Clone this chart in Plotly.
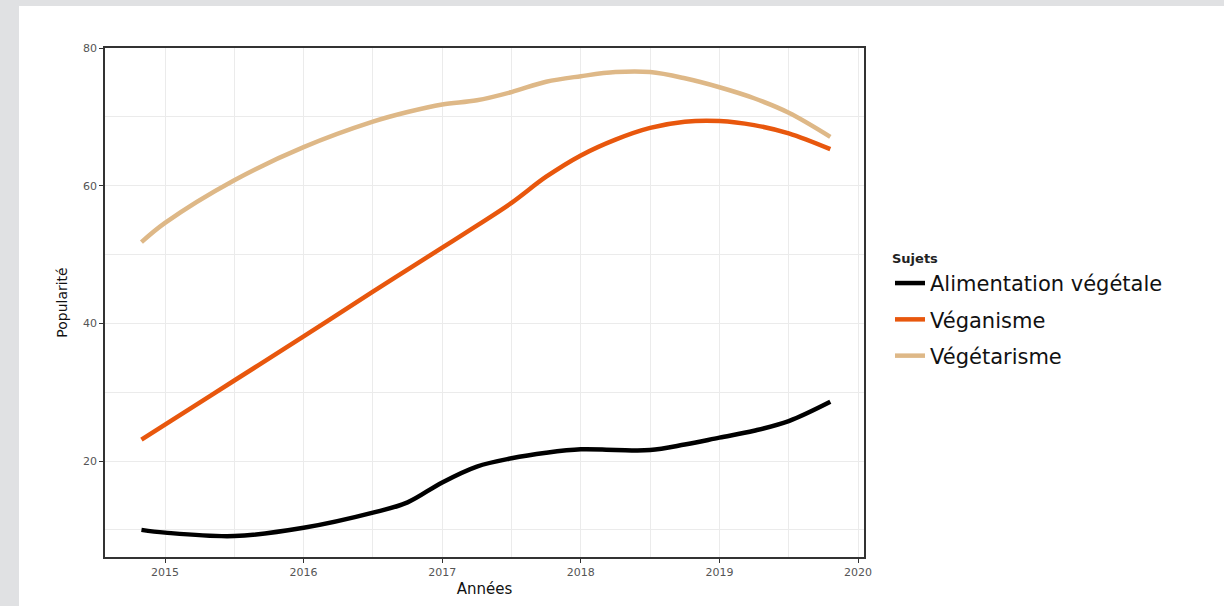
import plotly.graph_objects as go

# Data
annees = [2014.83, 2015.0, 2015.5, 2016.0, 2016.5, 2016.75, 2017.0, 2017.25, 2017.5, 2017.75,
          2018.0, 2018.25, 2018.5, 2018.75, 2019.0, 2019.25, 2019.5, 2019.8]
alimentation = [10.0, 9.6, 9.1, 10.3, 12.5, 14.0, 16.9, 19.2, 20.4, 21.2,
                21.7, 21.6, 21.6, 22.4, 23.4, 24.4, 25.8, 28.6]
veganisme = [23.1, 25.3, 31.7, 38.1, 44.6, 47.8, 51.0, 54.2, 57.5, 61.3,
             64.4, 66.7, 68.4, 69.3, 69.4, 68.8, 67.6, 65.3]
vegetarisme = [51.8, 54.6, 60.8, 65.6, 69.3, 70.7, 71.8, 72.4, 73.6, 75.1,
               75.9, 76.5, 76.5, 75.6, 74.3, 72.7, 70.6, 67.1]

series = [
    ("Alimentation végétale", alimentation, "#000000"),
    ("Véganisme", veganisme, "#E8570D"),
    ("Végétarisme", vegetarisme, "#DEB887"),
]

x_ticks = [2015, 2016, 2017, 2018, 2019, 2020]
y_ticks = [20, 40, 60, 80]

FONT = "DejaVu Sans, sans-serif"

fig = go.Figure()
for i, (name, vals, col) in enumerate(series):
    fig.add_trace(go.Scatter(
        x=annees, y=vals, name=name, mode="lines",
        line=dict(color=col, width=4.5, shape="spline", smoothing=1.0),
        legendgroup=str(i),
    ))

L, R, T, B = 105, 360, 48, 49
W, H = 1224, 606
pw, ph = W - L - R, H - T - B

fig.add_shape(type="rect", xref="paper", yref="paper",
              x0=(19 - L) / pw, x1=(W + 5 - L) / pw,
              y0=(H - B - H - 5) / ph, y1=(H - B - 6) / ph,
              fillcolor="white", line=dict(width=0), layer="below")

axis_common = dict(
    showline=True, linecolor="#333333", linewidth=1.5, mirror=True,
    ticks="outside", ticklen=4, tickcolor="#333333", tickwidth=1,
    showgrid=True, gridcolor="#ebebeb", gridwidth=1.2,
    zeroline=False,
    tickfont=dict(family=FONT, size=11, color="#555555"),
)

fig.update_xaxes(
    range=[2014.567, 2020.043], tickvals=x_ticks, ticktext=[str(v) for v in x_ticks],
    minor=dict(dtick=0.5, tick0=2014.5, showgrid=True, gridcolor="#ebebeb", gridwidth=1.2, ticks=""),
    title=dict(text="Années", font=dict(family=FONT, size=15, color="#111111"), standoff=6),
    **axis_common,
)
fig.update_yaxes(
    range=[6.06, 80], tickvals=y_ticks, ticktext=[str(v) for v in y_ticks],
    minor=dict(dtick=10, tick0=0, showgrid=True, gridcolor="#ebebeb", gridwidth=1.2, ticks=""),
    title=dict(text="Popularité", font=dict(family=FONT, size=14, color="#111111"), standoff=12),
    **axis_common,
)

fig.update_layout(
    width=W, height=H,
    margin=dict(l=L, r=R, t=T, b=B, pad=0),
    paper_bgcolor="#e0e1e3", plot_bgcolor="white",
    showlegend=True,
    legend=dict(
        x=(890 - L) / pw, y=(H - B - 246) / ph, xanchor="left", yanchor="top",
        bgcolor="rgba(0,0,0,0)",
        title=dict(text="<b>Sujets</b>", font=dict(family=FONT, size=13, color="#222222")),
        font=dict(family=FONT, size=21, color="#111111"),
        traceorder="grouped", tracegroupgap=6, itemwidth=30,
    ),
)

fig.write_html("out.html", config={"displayModeBar": False},
               post_script="document.body.style.margin='0px';")
